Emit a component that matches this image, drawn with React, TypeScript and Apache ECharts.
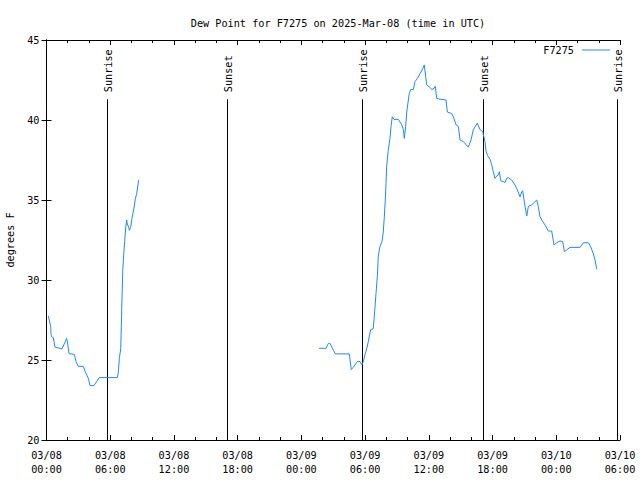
import React, { useEffect, useRef } from 'react';
import * as echarts from 'echarts';

// Hours since 2025-03-08 00:00 UTC and dew point (°F)
const hours1 = [0.17, 0.26, 0.40, 0.42, 0.49, 0.64, 0.80, 1.46, 1.90, 2.00, 2.12, 2.62, 2.78, 2.99, 3.47, 3.63, 3.94, 4.10, 4.47, 4.97, 6.67, 6.76, 6.86, 6.99, 7.08, 7.18, 7.27, 7.36, 7.46, 7.55, 7.61, 7.74, 7.80, 7.93, 8.05, 8.24, 8.36, 8.49, 8.68];
const dew1 = [27.75, 27.5, 27.1, 26.6, 26.45, 26.4, 25.8, 25.7, 26.35, 26.0, 25.4, 25.35, 24.9, 24.6, 24.6, 24.3, 23.85, 23.4, 23.4, 23.9, 23.9, 24.2, 25.1, 25.7, 28.1, 30.6, 31.6, 32.4, 33.3, 33.75, 33.5, 33.3, 33.1, 33.3, 33.85, 34.5, 35.05, 35.4, 36.25];

const hours2 = [25.66, 26.32, 26.54, 26.69, 27.01, 27.19, 28.51, 28.58, 28.70, 28.89,
  29.27, 29.52, 29.71, 29.83, 30.02, 30.15, 30.30, 30.46, 30.53, 30.77,
  30.93, 31.03, 31.15, 31.24, 31.40, 31.59, 31.71, 31.81, 31.90, 31.97,
  32.03, 32.18, 32.34, 32.44, 32.56, 32.72, 33.13, 33.45, 33.60, 33.69,
  33.82, 33.92, 34.16, 34.29, 34.54, 34.70, 34.92, 35.17, 35.42, 35.57,
  35.71, 35.80, 36.11, 36.27, 36.49, 36.61, 36.74, 37.05, 37.62, 37.74,
  38.15, 38.31, 38.56, 38.78, 38.94, 39.25, 39.72, 39.97, 40.19, 40.56,
  40.82, 41.07, 41.29, 41.38, 41.51, 41.76, 41.92, 42.07, 42.23, 42.39,
  42.54, 42.64, 42.77, 43.01, 43.17, 43.33, 43.48, 43.80, 44.11, 44.27,
  44.59, 44.75, 44.84, 45.06, 45.22, 45.37, 45.69, 46.00, 46.16, 46.31,
  46.47, 46.63, 46.94, 47.25, 47.57, 47.79, 48.04, 48.35, 48.61, 48.76,
  48.98, 49.29, 50.24, 50.55, 51.02, 51.24, 51.49, 51.65, 51.81];
const dew2 = [25.73, 25.73, 26.04, 26.04, 25.63, 25.38, 25.38, 25.0, 24.4, 24.55,
  24.9, 24.9, 24.7, 24.9, 25.4, 25.7, 26.15, 26.7, 26.9, 26.96,
  28.3, 29.2, 30.2, 31.5, 32.1, 32.4, 33.0, 33.96, 35.0, 36.04,
  37.1, 38.1, 38.85, 39.6, 40.2, 40.04, 40.04, 39.7, 39.4, 38.85,
  39.6, 40.5, 41.67, 41.9, 41.9, 42.4, 42.6, 42.9, 43.2, 43.44,
  42.7, 42.2, 42.04, 41.9, 41.98, 42.1, 41.35, 41.3, 41.25, 40.5,
  40.4, 40.2, 39.7, 39.6, 38.75, 38.65, 38.3, 38.75, 39.4, 39.8,
  39.4, 39.27, 38.65, 38.1, 37.8, 37.54, 37.2, 36.77, 36.35, 36.5,
  36.56, 36.77, 36.2, 36.15, 36.1, 36.35, 36.4, 36.25, 35.94, 35.73,
  35.2, 35.5, 35.58, 34.58, 34.0, 34.6, 34.7, 34.9, 35.0, 34.58,
  33.96, 33.75, 33.44, 33.06, 33.06, 32.19, 32.33, 32.44, 32.4, 31.77,
  31.88, 32.04, 32.04, 32.33, 32.33, 32.08, 31.63, 31.25, 30.67];

const gapHour = 17;

const eventHours = [5.72, 17.03, 29.74, 41.13, 53.69];
const eventNames = ['Sunrise', 'Sunset', 'Sunrise', 'Sunset', 'Sunrise'];
const eventTop = 41.3;

const dayLabels = ['03/08', '03/09', '03/10'];
const xMin = 0;
const xMax = 54;
const xInterval = 6;
const yMin = 20;
const yMax = 45;
const yInterval = 5;

const seriesName = 'F7275';
const titleText = 'Dew Point for F7275 on 2025-Mar-08 (time in UTC)';
const yName = 'degrees F';

const FONT = '"DejaVu Sans Mono", "Liberation Mono", monospace';
const LINE_COLOR = '#1e88ff';

function xLabel(h: number): string {
  const d = Math.floor(h / 24);
  const hh = Math.round(h - d * 24);
  return dayLabels[d] + '\n' + String(hh).padStart(2, '0') + ':00';
}

export default function App() {
  const ref = useRef<HTMLDivElement>(null);
  useEffect(() => {
    if (!ref.current) return;
    const chart = echarts.init(ref.current, null, { renderer: 'svg' });
    const lineData: any[] = [];
    hours1.forEach((h, i) => lineData.push([h, dew1[i]]));
    lineData.push([gapHour, '-']);
    hours2.forEach((h, i) => lineData.push([h, dew2[i]]));

    const tickCommon = {
      axisLine: { show: true, lineStyle: { color: '#000', width: 1 } },
      splitLine: { show: false },
    };

    chart.setOption({
      animation: false,
      backgroundColor: '#fff',
      title: {
        text: titleText,
        left: 333,
        top: 13,
        textAlign: 'center',
        textStyle: { fontFamily: FONT, fontSize: 10.2, fontWeight: 'normal', color: '#000' },
      },
      legend: {
        data: [seriesName],
        right: 30,
        top: 42,
        padding: [3, 0, 0, 0],
        align: 'right',
        icon: 'rect',
        itemWidth: 28,
        itemHeight: 1,
        itemGap: 8,
        textStyle: { fontFamily: FONT, fontSize: 10.2, color: '#000', padding: [0, 3, 0, 0] },
      },
      grid: { left: 46.5, right: 20, top: 40, bottom: 40, containLabel: false, outerBoundsMode: 'none' },
      xAxis: [
        {
          type: 'value', min: xMin, max: xMax, interval: xInterval,
          ...tickCommon,
          axisTick: { show: true, inside: true, length: 5, lineStyle: { color: '#000' } },
          minorTick: { show: true, splitNumber: 3, length: 3, lineStyle: { color: '#000' } },
          axisLabel: {
            formatter: (v: number) => xLabel(v),
            fontFamily: FONT, fontSize: 10.2, color: '#000', lineHeight: 14, margin: 8,
          },
        },
        {
          type: 'value', min: xMin, max: xMax, interval: xInterval, position: 'top',
          ...tickCommon,
          axisTick: { show: true, inside: true, length: 5, lineStyle: { color: '#000' } },
          minorTick: { show: true, splitNumber: 3, length: 3, lineStyle: { color: '#000' } },
          axisLabel: { show: false },
        },
      ],
      yAxis: [
        {
          type: 'value', min: yMin, max: yMax, interval: yInterval,
          ...tickCommon,
          axisTick: { show: true, inside: true, length: 5, lineStyle: { color: '#000' } },
          axisLabel: { fontFamily: FONT, fontSize: 10.2, color: '#000', margin: 7 },
          name: yName,
          nameLocation: 'middle',
          nameGap: 31,
          nameTextStyle: { fontFamily: FONT, fontSize: 10.2, color: '#000' },
        },
        {
          type: 'value', min: yMin, max: yMax, interval: yInterval, position: 'right',
          ...tickCommon,
          axisTick: { show: true, inside: true, length: 5, lineStyle: { color: '#000' } },
          axisLabel: { show: false },
        },
      ],
      series: [
        {
          name: seriesName,
          type: 'line',
          data: lineData,
          symbol: 'none',
          showSymbol: false,
          connectNulls: false,
          lineStyle: { color: LINE_COLOR, width: 1 },
          itemStyle: { color: LINE_COLOR },
          z: 3,
        },
        {
          name: 'events',
          type: 'custom',
          data: eventHours.map((h) => [h, eventTop]),
          encode: { x: 0, y: 1 },
          z: 2,
          renderItem: (params: any, api: any) => {
            const h = api.value(0);
            const b = api.coord([h, yMin]);
            const t = api.coord([h, eventTop]);
            const x = Math.round(b[0]) + 0.5;
            return {
              type: 'group',
              children: [
                {
                  type: 'line',
                  shape: { x1: x, y1: b[1], x2: x, y2: t[1] },
                  style: { stroke: '#000', lineWidth: 1 },
                },
                {
                  type: 'text',
                  x: x + 1,
                  y: t[1] - 7,
                  rotation: Math.PI / 2,
                  style: {
                    text: eventNames[params.dataIndex],
                    textAlign: 'left',
                    textVerticalAlign: 'middle',
                    fontFamily: FONT,
                    fontSize: 10.2,
                    fill: '#000',
                  },
                },
              ],
            };
          },
        },
      ],
    });
    return () => chart.dispose();
  }, []);
  return <div ref={ref} style={{ width: 640, height: 480, position: 'absolute', left: 0, top: 0 }} />;
}
